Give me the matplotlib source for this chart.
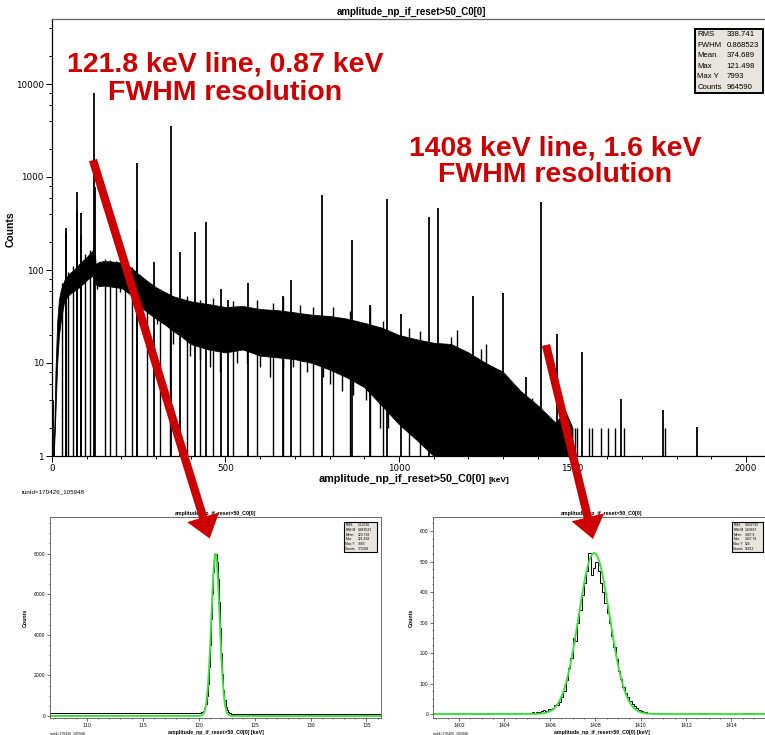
import numpy as np
import matplotlib
matplotlib.use("Agg")
import matplotlib.pyplot as plt
from matplotlib.patches import Rectangle, ConnectionPatch, ArrowStyle
from matplotlib.ticker import MultipleLocator, LogLocator, NullFormatter

# ---- main spectrum (log y), continuum band ----
cont_e = [5, 10, 15, 20, 25, 35, 50, 65, 80, 100, 115, 122, 126, 135, 150, 175,
          200, 225, 250, 275, 300, 325, 350, 375, 400, 450, 500, 550, 600, 650,
          700, 750, 800, 850, 900, 950, 1000, 1050, 1100, 1150, 1200, 1250,
          1300, 1350, 1400, 1450, 1480, 1500]
cont_hi = [1, 8, 28, 48, 60, 77, 92, 102, 118, 138, 158, 172, 115, 122, 125, 123,
           120, 108, 90, 76, 65, 58, 52, 49, 46, 43, 40, 41, 38, 37,
           35, 33, 32, 30, 27, 24, 20, 18, 16.5, 16, 13, 10,
           8, 5, 3.5, 2.3, 3.0, 2.0]
cont_lo = [1, 3, 10, 20, 28, 46, 55, 60, 66, 78, 86, 92, 70, 67, 68, 66,
           64, 55, 42, 35, 30, 26, 22, 19, 16, 14, 13, 14, 12, 11.5,
           11, 10, 8.5, 7, 5.5, 3.5, 2.2, 1.5, 1, 1, 1, 1,
           1, 1, 1, 1, 1, 1]

# single noisy bins sticking out of the band (energy, counts)
up_e = [30, 45, 60, 95, 110, 152, 168, 185, 211, 230, 273, 312, 340, 388, 427,
        465, 523, 590, 638, 667, 715, 753, 810, 858, 916, 954, 1030, 1060,
        1150, 1168, 1235, 1252, 1292, 1325, 1383]
up_h = [72, 95, 110, 150, 165, 131, 128, 125, 116, 108, 77, 62, 55, 52, 48,
        50, 46, 48, 44, 51, 42, 40, 40, 36, 41, 28, 24, 22, 19, 22.7, 14.3,
        16, 8.4, 5.1, 4.2]
dip_e = [130, 197, 254, 302, 350, 398, 427, 454, 484, 532, 561, 600, 628, 667,
         695, 734, 782, 801, 835, 868, 906, 945, 969]
dip_h = [62, 58, 38, 26, 16, 12, 11, 9, 8, 10, 10, 9, 7, 9,
         9, 8, 7, 6, 5, 4.5, 4, 2, 2]

# gamma lines: energy [keV], counts in peak bin
line_e = [1, 4, 39.4, 41.4, 72, 73, 83.6, 85, 121.5, 122.5, 244, 245, 295, 344,
          369, 412, 443, 487, 506, 564, 666, 690, 777, 865, 917, 964, 1005,
          1086, 1112, 1212, 1300, 1365, 1408, 1456, 1528, 1641, 1762, 1858]
line_h = [8, 4, 250, 283, 433, 690, 412, 237, 8050, 790, 270, 1410, 123, 3530,
          157, 258, 330, 63, 48, 72, 52, 79, 640, 210, 42, 575, 34,
          375, 460, 52, 56, 7.1, 535, 20.4, 13.2, 4.1, 3.1, 2.03]

# isolated 2-count bins in the high energy tail
sparse_e = [1507, 1514, 1548, 1555, 1582, 1601, 1623, 1649, 1766]
sparse_h = [2, 2, 2, 2, 2, 2, 2, 2, 2]

main_stats = [("RMS", "338.741"), ("FWHM", "0.868523"), ("Mean", "374.689"),
              ("Max", "121.498"), ("Max Y", "7993"), ("Counts", "964590")]

# ---- zoom on 121.8 keV ----
z1_left_edges = np.arange(106.5, 120.0, 1.0)
z1_left = [150, 145, 150, 140, 145, 140, 135, 140, 130, 135, 130, 135, 140]
z1_fine_edges = np.arange(119.5, 123.55, 0.1)
z1_fine = [140, 150, 145, 150, 160, 155, 170, 180, 200, 260,
           380, 600, 1000, 1580, 2420, 3520, 4760, 6020, 7100, 7850,
           7993, 7560, 6750, 5600, 4320, 3100, 2080, 1300, 780, 450,
           280, 190, 150, 130, 120, 115, 110, 112, 108, 105]
z1_right_edges = np.arange(123.5, 137.0, 1.0)
z1_right = [100, 100, 95, 95, 90, 95, 90, 85, 90, 85, 85, 80, 80]
z1_fit = (7993, 121.5, 0.868523)   # height, mean, FWHM
z1_stats = [("RMS", "5.12636"), ("FWHM", "0.868523"), ("Mean", "120.798"),
            ("Max", "121.498"), ("Max Y", "7993"), ("Counts", "172088")]

# ---- zoom on 1408 keV ----
z2_left_edges = np.arange(1401.0, 1404.6, 0.5)
z2_left = [1, 0, 2, 0, 1, 2, 3]
z2_core_edges = np.arange(1404.5, 1411.55, 0.1)
z2_core = [2, 3, 2, 4, 3, 5, 4, 6, 5, 8,
           8, 10, 12, 11, 15, 18, 20, 28, 30, 40,
           55, 75, 110, 150, 185, 250, 240, 300, 340, 390,
           430, 470, 527, 455, 480, 500, 470, 430, 400, 365,
           330, 300, 255, 220, 180, 140, 115, 90, 70, 55,
           42, 32, 25, 20, 14, 10, 8, 6, 5, 4,
           3, 2, 3, 1, 2, 1, 1, 2, 0, 1]
z2_right_edges = np.arange(1411.5, 1415.55, 0.5)
z2_right = [1, 0, 2, 0, 1, 0, 2, 1]
z2_fit = (528, 1407.95, 1.60887)
z2_stats = [("RMS", "0.932735"), ("FWHM", "1.60887"), ("Mean", "1407.9"),
            ("Max", "1407.78"), ("Max Y", "526"), ("Counts", "16912")]

title = "amplitude_np_if_reset>50_C0[0]"
RED = "#cc0000"
W, H = 765, 735


def frac(x0, y0, x1, y1):
    # pixel box (top-left origin) -> figure rect
    return [x0 / W, 1 - y1 / H, (x1 - x0) / W, (y1 - y0) / H]


def stats_box(ax, rows, x0, x1, y0, y1, fs, lw, vcol=0.46):
    ax.add_patch(Rectangle((x0, y0), x1 - x0, y1 - y0, transform=ax.transAxes,
                           facecolor="#e8e5de", edgecolor="black", lw=lw,
                           zorder=6, clip_on=False))
    dy = (y1 - y0) / len(rows)
    for i, (k, v) in enumerate(rows):
        yy = y1 - (i + 0.5) * dy
        ax.text(x0 + 0.004, yy, k, transform=ax.transAxes, fontsize=fs,
                va="center", ha="left", zorder=7, family="Liberation Sans")
        ax.text(x0 + vcol * (x1 - x0), yy, v, transform=ax.transAxes,
                fontsize=fs, va="center", ha="left", zorder=7,
                family="Liberation Sans")


def gauss(x, p):
    h, mu, fwhm = p
    s = fwhm / 2.3548
    return h * np.exp(-0.5 * ((x - mu) / s) ** 2)


fig = plt.figure(figsize=(W / 100, H / 100), dpi=100)

# ---------------- main spectrum ----------------
ax = fig.add_axes(frac(52, 19, 770, 456))
ax.set_yscale("log")
ax.fill_between(cont_e, cont_lo, cont_hi, color="black", lw=0.6,
                edgecolor="black")
ax.vlines(up_e, 1, up_h, color="black", lw=1.0)
ax.vlines(dip_e, dip_h, np.interp(dip_e, cont_e, cont_hi), color="black",
          lw=1.0)
ax.vlines(line_e, 1, line_h, color="black", lw=1.3)
ax.vlines(sparse_e, 1, sparse_h, color="black", lw=1.0)
ax.set_xlim(0, (770 - 52) / 0.347)
ax.set_ylim(1, 10 ** ((456 - 19) / 93.0))
ax.set_xticks([0, 500, 1000, 1500, 2000])
ax.xaxis.set_minor_locator(MultipleLocator(100))
ax.set_yticks([1, 10, 100, 1000, 10000])
ax.set_yticklabels(["1", "10", "100", "1000", "10000"])
ax.yaxis.set_minor_locator(LogLocator(base=10, subs=(2, 4, 6, 8)))
ax.yaxis.set_minor_formatter(NullFormatter())
ax.tick_params(which="both", direction="out", labelsize=6.3, width=0.7,
               pad=2)
ax.tick_params(which="major", length=4)
ax.tick_params(which="minor", length=2)
for s in ["top", "left", "bottom"]:
    ax.spines[s].set_linewidth(0.9)
ax.spines["top"].set_color("#666666")
ax.spines["right"].set_visible(False)
ax.set_title(title, fontsize=7, fontweight="bold", pad=3,
             family="Liberation Sans")
ax.set_ylabel("Counts", fontsize=7.5, fontweight="bold",
              family="Liberation Sans")
ax.yaxis.set_label_coords(-0.05, 0.52)
stats_box(ax, main_stats, 0.895, 0.99, 0.831, 0.977, 5.6, 1.4, vcol=0.47)

fig.text(486 / W, 1 - 479 / H, title, ha="right", va="center", fontsize=7.8,
         fontweight="bold", family="Liberation Sans")
fig.text(489 / W, 1 - 480 / H, "[keV]", ha="left", va="center", fontsize=6,
         fontweight="bold", family="Liberation Sans")
fig.text(22 / W, 1 - 492 / H, "runId=170426_105948", ha="left", va="center",
         fontsize=4.5, family="Liberation Sans")

# ---------------- zoom panels ----------------
panels = [
    (frac(50, 517, 381, 718),
     np.concatenate([z1_left_edges[:-1], z1_fine_edges, z1_right_edges[1:]]),
     z1_left + z1_fine + z1_right, z1_fit, z1_stats,
     (106.7, 136.3), (-100, 9800), [110, 115, 120, 125, 130, 135],
     [0, 2000, 4000, 6000, 8000], 1, 500, (0.888, 0.988), 0.42),
    (frac(433, 517, 770, 718),
     np.concatenate([z2_left_edges[:-1], z2_core_edges, z2_right_edges[1:]]),
     z2_left + z2_core + z2_right, z2_fit, z2_stats,
     (1400.85, 1415.7), (-13, 646), [1402, 1404, 1406, 1408, 1410, 1412, 1414],
     [0, 100, 200, 300, 400, 500, 600], 0.5, 25, (0.887, 0.98), 0.42),
]
insets = []
for rect, edges, counts, fit, st, xl, yl, xt, yt, xm, ym, bx, vc in panels:
    a = fig.add_axes(rect)
    a.stairs(counts, edges, color="black", lw=0.7)
    xs = np.linspace(xl[0], xl[1], 1500)
    a.plot(xs, gauss(xs, fit), color="#3ee03e", lw=1.4)
    a.set_xlim(*xl)
    a.set_ylim(*yl)
    a.set_xticks(xt)
    a.set_yticks(yt)
    a.xaxis.set_minor_locator(MultipleLocator(xm))
    a.yaxis.set_minor_locator(MultipleLocator(ym))
    a.tick_params(which="both", direction="out", labelsize=3.3, width=0.4,
                  pad=1.5)
    a.tick_params(which="major", length=2)
    a.tick_params(which="minor", length=1)
    for s in a.spines.values():
        s.set_linewidth(0.6)
        s.set_color("#555555")
    a.spines["right"].set_visible(rect[0] + rect[2] < 1)
    a.set_title(title, fontsize=3.8, fontweight="bold", pad=1.5,
                family="Liberation Sans")
    a.set_ylabel("Counts", fontsize=3.8, fontweight="bold", labelpad=4,
                 family="Liberation Sans")
    a.set_xlabel(title + " [keV]", fontsize=3.8, fontweight="bold",
                 labelpad=1.5, family="Liberation Sans")
    stats_box(a, st, bx[0], bx[1], 0.826, 0.975, 2.4, 0.8, vcol=vc)
    fig.text(rect[0], 1 - 733 / H, "runId=170426_105948", fontsize=2.5,
             va="center", ha="left", family="Liberation Sans")
    insets.append(a)

# ---------------- annotations ----------------
fig.text(225 / W, 1 - 79 / H, "121.8 keV line, 0.87 keV\nFWHM resolution",
         ha="center", va="center", fontsize=20.5, fontweight="bold",
         color=RED, family="Liberation Sans", linespacing=1.1, zorder=20)
fig.text(555 / W, 1 - 161.5 / H, "1408 keV line, 1.6 keV\nFWHM resolution",
         ha="center", va="center", fontsize=20.5, fontweight="bold",
         color=RED, family="Liberation Sans", linespacing=1.0, zorder=20)

arrow = ArrowStyle.Simple(head_length=16, head_width=24, tail_width=6)
for a_from, a_to, tgt in [((118, 1520), (120.98, 8740), insets[0]),
                          ((1423.6, 15.6), (1407.9, 574), insets[1])]:
    con = ConnectionPatch(xyA=a_from, coordsA=ax.transData,
                          xyB=a_to, coordsB=tgt.transData,
                          arrowstyle=arrow, mutation_scale=1,
                          color=RED, lw=0, zorder=30)
    fig.add_artist(con)

fig.savefig("out.png", dpi=100)
